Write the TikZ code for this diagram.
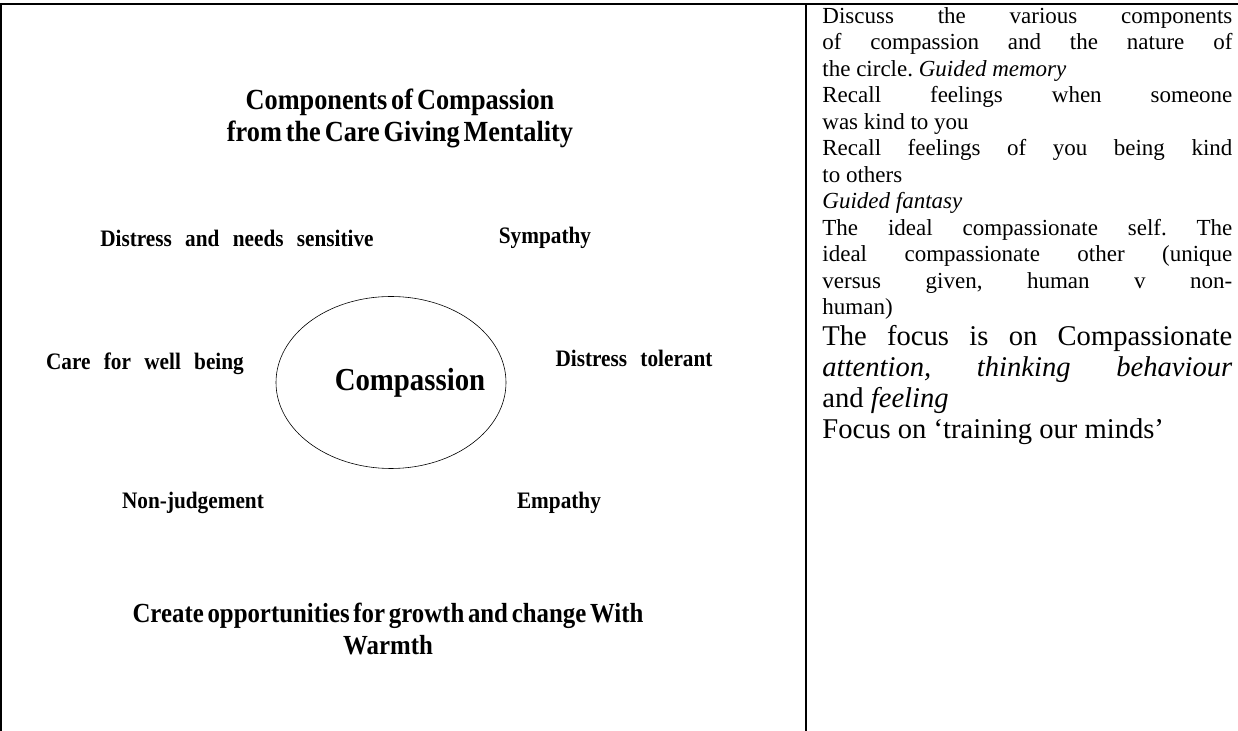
\documentclass[tikz,border=0pt]{standalone}
\usepackage{fontspec}
\setmainfont{Liberation Serif}
\newfontfamily\cbf[FakeStretch=0.90,WordSpace=0.6]{Liberation Serif}
\newfontfamily\lbf[FakeStretch=0.901,WordSpace=2.5]{Liberation Serif}
\usetikzlibrary{positioning}
\begin{document}
\begin{tikzpicture}[x=0.5pt, y=-0.5pt,
    rule/.style={line width=1pt},
    lbl/.style={inner sep=0pt, font=\lbf\bfseries\fontsize{11.8}{13}\selectfont},
    head/.style={inner sep=0pt, align=center, font=\cbf\bfseries\fontsize{14.6}{16}\selectfont}]
    \useasboundingbox (0,0) rectangle (1238,731);
    % table rules
    \draw [rule] (0,4) -- (1238,4);
    \draw [rule] (1,4) -- (1,731);
    \draw [rule] (806,4) -- (806,731);
    % left cell: components round the circle
    \node [head] (title) at (400,118) {Components of Compassion\\from the Care Giving Mentality};
    \node [inner sep=0pt, font=\cbf\bfseries\fontsize{16}{18}\selectfont] (core) at (410,383) {Compassion};
    \draw [line width=0.3pt] (391,382.5) ellipse [x radius=115, y radius=86];
    \node [lbl] (dns) at (237,238) {Distress and needs sensitive};
    \node [lbl] (symp) at (545,238) {Sympathy};
    \node [lbl] (care) at (145,364) {Care for well being};
    \node [lbl] (tol) at (634,358) {Distress tolerant};
    \node [lbl] (nonj) at (193,503) {Non-judgement};
    \node [lbl] (emp) at (559,503) {Empathy};
    \node [head, font=\cbf\bfseries\fontsize{13.8}{16}\selectfont] (growth) at (388,629) {Create opportunities for growth and change With\\Warmth};
    % right cell: notes
    \node [anchor=north west, inner sep=0pt, text width=205pt, align=justify,
        font=\fontsize{11.5}{13.25}\selectfont\frenchspacing] (notes) at (822,7)
        {Discuss the various components\linebreak of compassion and the nature of\linebreak the circle. \textit{Guided memory}\par
        Recall feelings when someone\linebreak was kind to you\par
        Recall feelings of you being kind\linebreak to others\par
        \textit{Guided fantasy}\par
        The ideal compassionate self. The\linebreak ideal compassionate other (unique\linebreak versus given, human v non-\linebreak human)\par
        {\fontsize{14.3}{15.5}\selectfont The focus is on Compassionate\linebreak \textit{attention, thinking behaviour}\linebreak and \textit{feeling}\par
        Focus on ‘training our minds’\par}};
\end{tikzpicture}
\end{document}
